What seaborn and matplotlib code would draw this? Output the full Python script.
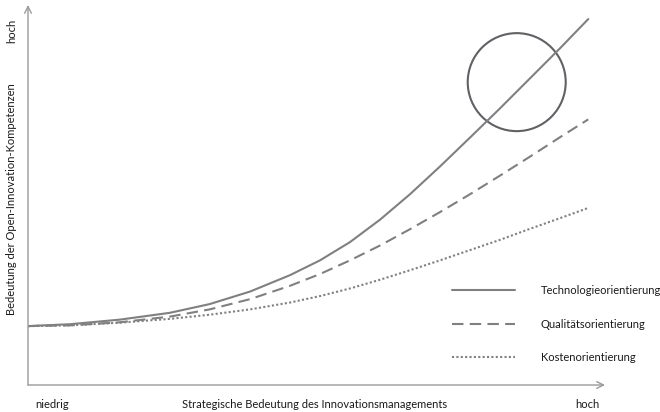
import pandas as pd
import matplotlib.pyplot as plt
from matplotlib.patches import Ellipse
import seaborn as sns

# values (0-100 scale on both axes)
x_pos = [0, 7.3, 15.9, 24.6, 31.5, 38.5, 45.4, 50.6, 55.8, 61.0, 66.2, 71.4, 76.6, 81.8, 87.0, 92.2, 97.1]
technologie = [15.5, 16.0, 17.2, 19.0, 21.3, 24.6, 28.9, 32.8, 37.6, 43.5, 50.2, 57.5, 65.1, 72.8, 80.7, 88.6, 96.3]
qualitaet = [15.5, 15.7, 16.5, 18.0, 19.9, 22.6, 26.1, 29.2, 32.8, 36.7, 41.0, 45.5, 50.2, 55.1, 60.1, 65.2, 69.9]
kosten = [15.5, 15.7, 16.4, 17.4, 18.5, 19.9, 21.7, 23.4, 25.4, 27.7, 30.2, 32.8, 35.5, 38.2, 41.1, 43.9, 46.6]
series_names = ["Technologieorientierung", "Qualitätsorientierung", "Kostenorientierung"]
circle_center = (84.7, 79.7)

sns.set_theme(style="white")
plt.rcParams["font.family"] = ["Lato", "DejaVu Sans"]

df = pd.DataFrame({
    "x": x_pos * 3,
    "y": technologie + qualitaet + kosten,
    "serie": [series_names[0]] * len(x_pos) + [series_names[1]] * len(x_pos) + [series_names[2]] * len(x_pos),
})

fig = plt.figure(figsize=(6.6, 4.12), dpi=100)
ax = fig.add_axes([28 / 660, 27 / 412, 577 / 660, 380 / 412])

line_grey = "#808080"
styles = {
    series_names[0]: "",
    series_names[1]: (5.5, 3),
    series_names[2]: (1, 1.1),
}
sns.lineplot(data=df, x="x", y="y", hue="serie", style="serie",
             palette=[line_grey] * 3, dashes=styles, linewidth=1.5,
             ax=ax, legend=True)

ax.set_xlim(0, 100)
ax.set_ylim(0, 100)
ax.set_xticks([])
ax.set_yticks([])
ax.set_xlabel("")
ax.set_ylabel("")
for s in ax.spines.values():
    s.set_visible(False)

# axes with open arrow heads
axis_grey = "#9a9a9a"
ax.annotate("", xy=(1, 0), xytext=(0, 0), xycoords="axes fraction",
            arrowprops=dict(arrowstyle="->", color=axis_grey, lw=1, shrinkA=0, shrinkB=0))
ax.annotate("", xy=(0, 1), xytext=(0, 0), xycoords="axes fraction",
            arrowprops=dict(arrowstyle="->", color=axis_grey, lw=1, shrinkA=0, shrinkB=0))

# circle marking the top of the technology curve
ax.add_patch(Ellipse(circle_center, width=2 * 49 / 5.77, height=2 * 49 / 3.8,
                     fill=False, edgecolor="#606066", lw=1.5))

leg = ax.legend(loc="center left", bbox_to_anchor=((452 - 28) / 577, (385 - 324) / 380),
                frameon=False, fontsize=8, handlelength=5.7, handletextpad=2.3,
                labelspacing=2.0, borderpad=0, borderaxespad=0)
for t in leg.get_texts():
    t.set_color("#1a1a1a")

txt = dict(fontsize=8, color="#1a1a1a")
fig.text(52 / 660, 1 - 405 / 412, "niedrig", ha="center", va="center", **txt)
fig.text(315 / 660, 1 - 405 / 412, "Strategische Bedeutung des Innovationsmanagements",
         ha="center", va="center", **txt)
fig.text(587 / 660, 1 - 405 / 412, "hoch", ha="center", va="center", **txt)
fig.text(12 / 660, 1 - 31 / 412, "hoch", ha="center", va="center", rotation=90, **txt)
fig.text(12 / 660, 1 - 199 / 412, "Bedeutung der Open-Innovation-Kompetenzen",
         ha="center", va="center", rotation=90, **txt)

fig.savefig("out.png", dpi=100)
